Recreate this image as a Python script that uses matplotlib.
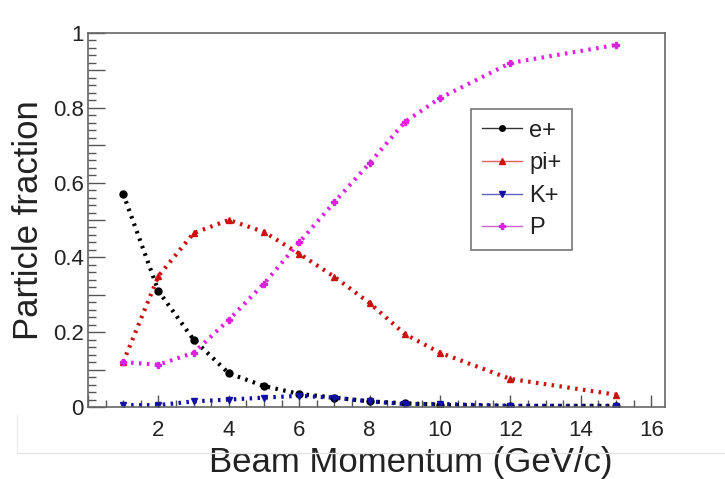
import matplotlib
matplotlib.use("Agg")
import matplotlib.pyplot as plt
from matplotlib.lines import Line2D
from matplotlib.ticker import MultipleLocator, FuncFormatter

plt.rcParams['font.family'] = ['Liberation Sans', 'DejaVu Sans']

momentum = [1, 2, 3, 4, 5, 6, 7, 8, 9, 10, 12, 15]
e_plus = [0.57, 0.31, 0.18, 0.09, 0.056, 0.035, 0.025, 0.015, 0.01, 0.006, 0.003, 0.003]
pi_plus = [0.12, 0.35, 0.465, 0.50, 0.468, 0.41, 0.348, 0.278, 0.195, 0.145, 0.075, 0.033]
k_plus = [0.005, 0.005, 0.015, 0.02, 0.025, 0.03, 0.025, 0.015, 0.008, 0.008, 0.003, 0.003]
proton = [0.12, 0.113, 0.145, 0.233, 0.33, 0.44, 0.548, 0.652, 0.762, 0.826, 0.92, 0.968]

labels = ['e+', 'pi+', 'K+', 'P']
colors = ['#000000', '#cc1111', '#1111aa', '#e020e0']
legend_colors = ['#333333', '#e06060', '#6060c0', '#d060d0']
markers = ['o', '^', 'v', 'P']
series = [e_plus, pi_plus, k_plus, proton]

fig = plt.figure(figsize=(7.25, 4.79), dpi=100)
ax = fig.add_axes([0.1214, 0.1503, 0.7958, 0.7808])

for ys, c, m in zip(series, colors, markers):
    ax.plot(momentum, ys, linestyle=(0, (0.6, 1.3)), linewidth=3.0, color=c,
            marker=m, markersize=5, dash_capstyle='butt')

ax.set_xlim(0, 16.39)
ax.set_ylim(0, 1)

ax.xaxis.set_major_locator(MultipleLocator(2))
ax.xaxis.set_minor_locator(MultipleLocator(0.5))
ax.xaxis.set_major_formatter(FuncFormatter(lambda v, p: '' if v < 1 else f'{int(v)}'))
ax.yaxis.set_major_locator(MultipleLocator(0.1))
ax.yaxis.set_minor_locator(MultipleLocator(0.02))

def yfmt(v, p):
    k = int(round(v * 10))
    if k % 2:
        return ''
    if k == 0:
        return '0'
    if k == 10:
        return '1'
    return f'{v:.1f}'
ax.yaxis.set_major_formatter(FuncFormatter(yfmt))

ax.tick_params(axis='both', which='both', direction='in', colors='#555555',
               labelcolor='#222222', labelsize=16, top=False, right=False)
ax.tick_params(axis='x', which='major', length=9, width=1, pad=9)
ax.tick_params(axis='x', which='minor', length=5, width=1)
ax.tick_params(axis='y', which='major', length=12, width=1, pad=3)
ax.tick_params(axis='y', which='minor', length=6, width=1)

for s in ax.spines.values():
    s.set_color('#666666')
    s.set_linewidth(1.2)

ax.set_xlabel('Beam Momentum (GeV/c)', fontsize=25, color='#222222', labelpad=4,
              x=0.56, ha='center')
ax.set_ylabel('Particle fraction', fontsize=25, color='#222222', labelpad=6, y=0.5)

handles = [Line2D([0], [0], color=lc, lw=1, marker=m, markersize=4,
                  markerfacecolor=c, markeredgecolor=c)
           for lc, c, m in zip(legend_colors, colors, markers)]
leg = ax.legend(handles, labels, loc='upper left', bbox_to_anchor=(0.6645, 0.797),
                fontsize=17, frameon=True, fancybox=False, handlelength=1.7,
                handletextpad=0.3, labelspacing=0.45, borderpad=0.45,
                borderaxespad=0)
leg.get_frame().set_edgecolor('#555555')
leg.get_frame().set_linewidth(1.2)
for t in leg.get_texts():
    t.set_color('#222222')

# faint card edge at the bottom of the screenshot
fig.add_artist(Line2D([17 / 725, 1.0], [1 - 453 / 479, 1 - 453 / 479],
                      transform=fig.transFigure, color='#e4e4e4', lw=1))
fig.add_artist(Line2D([17 / 725, 17 / 725], [1 - 453 / 479, 1 - 415 / 479],
                      transform=fig.transFigure, color='#ececec', lw=1))

fig.savefig('out.png', dpi=100)
